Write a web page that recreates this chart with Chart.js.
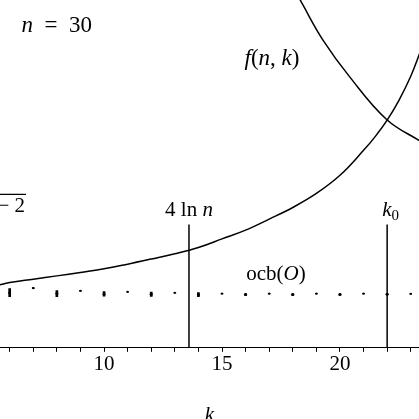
<!DOCTYPE html>
<html>
<head>
<meta charset="utf-8">
<script src="https://cdn.jsdelivr.net/npm/chart.js@4.4.1/dist/chart.umd.min.js"></script>
<style>
  html, body { margin: 0; padding: 0; background: #fff; }
</style>
</head>
<body>
<canvas id="chart" width="419" height="419"></canvas>
<script>
// Visible window (k runs along the bottom, y axis hidden)
const kMin = 5.59, kMax = 23.35;
const yMin = 0, yMax = 35;

// rising curve
const boundK = [5.5, 6, 7, 8, 9, 10, 11, 12, 13, 14, 15, 16, 17, 18, 19, 20, 21, 21.5, 22, 22.5, 23, 23.4];
const boundY = [6.29, 6.57, 6.91, 7.24, 7.59, 7.95, 8.42, 8.93, 9.46, 10.1, 10.96, 11.84, 12.95, 14.12, 15.53, 17.36, 19.87, 21.28, 22.92, 24.91, 27.33, 29.76];

// f(n,k), falling curve
const fK = [18.14, 18.43, 19.28, 20.42, 21.99, 23.4];
const fY = [35.81, 34.5, 30.97, 27.24, 22.95, 20.8];

// ocb(O) at each k: low / high value
const ocbK = [6, 7, 8, 9, 10, 11, 12, 13, 14, 15, 16, 17, 18, 19, 20, 21, 22, 23];
const ocbLow = [5.14, 5.95, 5.14, 5.70, 5.19, 5.60, 5.17, 5.50, 5.15, 5.42, 5.28, 5.42, 5.28, 5.42, 5.30, 5.42, 5.36, 5.40];
const ocbHigh = [5.95, 6.05, 5.77, 5.78, 5.66, 5.66, 5.60, 5.56, 5.55, 5.48, 5.44, 5.48, 5.44, 5.48, 5.44, 5.48, 5.44, 5.46];

// vertical markers
const lnMark = 13.6;  // 4 ln n
const k0 = 22;
const markTop = 12.4;

const serif = '"Liberation Serif", "DejaVu Serif", serif';

// text labels placed in data coordinates
const notes = [
  { k: 8.0, y: 31.77, parts: [{ t: 'n', it: true, size: 23 }, { t: '\u2002=\u200230', size: 23 }] },
  { k: 17.12, y: 28.44, parts: [{ t: 'f', it: true, size: 23 }, { t: '(', size: 23 }, { t: 'n', it: true, size: 23 }, { t: ', ', size: 23 }, { t: 'k', it: true, size: 23 }, { t: ')', size: 23 }] },
  { k: lnMark, y: 13.31, parts: [{ t: '4 ln ' }, { t: 'n', it: true }] },
  { k: 22.15, y: 13.31, parts: [{ t: 'k', it: true }, { t: '0', size: 15, dy: 4 }] },
  { k: 17.29, y: 6.86, parts: [{ t: 'ocb(' }, { t: 'O', it: true }, { t: ')' }] },
  { k: 6.65, y: 13.62, align: 'right', bar: true, parts: [{ t: '2' }, { t: 'n', it: true }, { t: ' \u2212 2' }] }
];

function fontOf(p) {
  return (p.it ? 'italic ' : '') + (p.size || 21) + 'px ' + serif;
}

const labelPlugin = {
  id: 'labels',
  afterDatasetsDraw(chart) {
    const { ctx, scales: { x, y } } = chart;
    ctx.save();
    ctx.fillStyle = '#000';
    ctx.strokeStyle = '#000';
    ctx.textBaseline = 'alphabetic';
    notes.forEach(note => {
      let w = 0;
      note.parts.forEach(p => { ctx.font = fontOf(p); w += ctx.measureText(p.t).width; });
      let px = x.getPixelForValue(note.k);
      px -= note.align === 'right' ? w : w / 2;
      const py = y.getPixelForValue(note.y);
      const start = px;
      note.parts.forEach(p => {
        ctx.font = fontOf(p);
        ctx.fillText(p.t, px, py + (p.dy || 0));
        px += ctx.measureText(p.t).width;
      });
      if (note.bar) {
        ctx.lineWidth = 1.2;
        ctx.beginPath();
        ctx.moveTo(start - 4, py - 18);
        ctx.lineTo(px + 1, py - 18);
        ctx.stroke();
      }
    });
    ctx.restore();
  }
};

const curve = {
  borderColor: '#000',
  borderWidth: 1.5,
  pointRadius: 0,
  pointHoverRadius: 0,
  tension: 0.4,
  fill: false
};

new Chart(document.getElementById('chart'), {
  type: 'line',
  data: {
    datasets: [
      { ...curve, label: 'bound', data: boundK.map((k, i) => ({ x: k, y: boundY[i] })) },
      { ...curve, label: 'f(n,k)', data: fK.map((k, i) => ({ x: k, y: fY[i] })) },
      { ...curve, label: '4 ln n', data: [{ x: lnMark, y: 0 }, { x: lnMark, y: markTop }] },
      { ...curve, label: 'k0', data: [{ x: k0, y: 0 }, { x: k0, y: markTop }] },
      {
        type: 'bar', label: 'ocb spread',
        data: ocbK.map((k, i) => ({ x: k, y: [ocbLow[i], ocbHigh[i]] })),
        backgroundColor: '#000', barThickness: 2, borderWidth: 0
      },
      {
        label: 'ocb', showLine: false,
        data: ocbK.map((k, i) => ({ x: k, y: (ocbLow[i] + ocbHigh[i]) / 2 })),
        pointRadius: c => (c.raw && c.raw.x % 2 === 0 ? 1.5 : 1.1),
        pointHoverRadius: 0,
        pointBackgroundColor: '#000', pointBorderWidth: 0
      }
    ]
  },
  options: {
    responsive: false,
    animation: false,
    layout: { autoPadding: false, padding: 0 },
    plugins: { legend: { display: false }, tooltip: { enabled: false } },
    scales: {
      x: {
        type: 'linear', min: kMin, max: kMax, offset: false,
        border: { display: true, color: '#000', width: 1 },
        grid: { display: true, offset: false, drawOnChartArea: false, drawTicks: true, tickLength: 4, color: '#000' },
        ticks: {
          stepSize: 1, includeBounds: false, autoSkip: false, maxRotation: 0, padding: 0,
          color: '#000', font: { family: serif, size: 21 },
          callback: v => (v % 5 === 0 ? String(v) : '')
        },
        title: {
          display: true, text: 'k', color: '#000',
          font: { family: serif, size: 21, style: 'italic', lineHeight: 0.38 },
          padding: { top: 34, bottom: 0 }
        }
      },
      y: { display: false, min: yMin, max: yMax }
    }
  },
  plugins: [labelPlugin]
});
</script>
</body>
</html>
